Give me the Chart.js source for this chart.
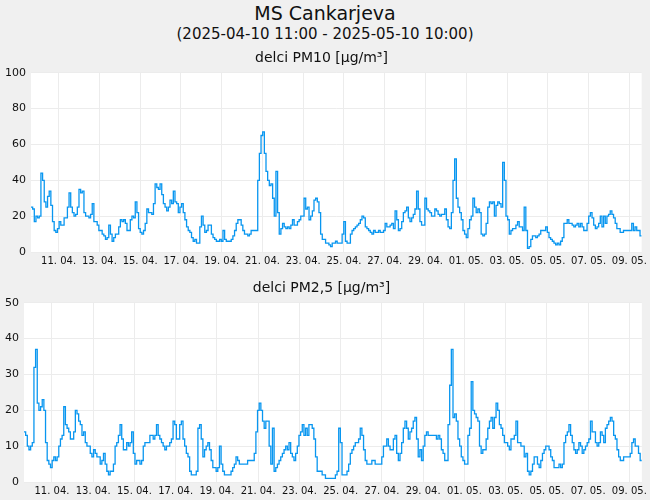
<!DOCTYPE html>
<html>
<head>
<meta charset="utf-8">
<script src="https://cdn.jsdelivr.net/npm/chart.js@4"></script>
<style>
  body { margin: 0; background: #f0f0f0; font-family: "DejaVu Sans", sans-serif; width: 650px; height: 500px; overflow: hidden; }
  .t1 { position: absolute; top: 2px; width: 650px; text-align: center; font-size: 19px; color: #111; }
  .t2 { position: absolute; top: 25px; width: 650px; text-align: center; font-size: 15px; color: #111; }
  .box { position: absolute; left: 0; width: 650px; }
</style>
</head>
<body>
<div class="t1">MS Cankarjeva</div>
<div class="t2">(2025-04-10 11:00 - 2025-05-10 10:00)</div>
<div class="box" style="top:48px;height:222px"><canvas id="c1"></canvas></div>
<div class="box" style="top:278px;height:222px"><canvas id="c2"></canvas></div>
<script>
// hourly span of the period, values read every ~2 h
var SPAN_HOURS = 719;
var FIRST_TICK_HOUR = 32.5;
var tickLabels = ['11. 04.', '13. 04.', '15. 04.', '17. 04.', '19. 04.', '21. 04.', '23. 04.', '25. 04.',
  '27. 04.', '29. 04.', '01. 05.', '03. 05.', '05. 05.', '07. 05.', '09. 05.'];

var pm10 = [
  25,24,17,20,19,20,44,40,28,25,31,34,26,17,12,11,13,17,15,15,19,19,25,33,25,22,20,21,25,35,
  33,34,22,20,20,19,21,27,17,17,15,12,12,10,9,7,8,15,10,6,8,10,10,14,18,17,18,16,12,12,
  18,20,19,28,22,13,11,10,12,16,24,22,22,21,27,38,36,35,38,32,27,25,23,25,29,27,34,28,27,22,
  25,27,22,18,14,12,11,8,6,7,5,5,14,20,15,11,12,15,15,10,8,7,6,6,
  7,6,12,7,6,6,6,7,9,12,16,18,18,15,12,10,10,9,10,12,12,12,12,40,55,65,67,55,45,40,
  37,38,30,20,45,22,10,13,16,14,13,14,13,15,18,15,15,17,18,20,20,30,24,25,18,20,23,29,30,28,
  22,10,7,7,5,5,4,3,5,5,6,5,5,5,10,17,6,5,5,10,12,13,14,15,16,18,20,19,14,13,
  12,11,10,12,11,11,12,11,11,12,16,14,14,15,16,13,23,18,12,13,17,22,23,25,19,17,19,21,24,34,
  24,17,15,15,30,24,23,22,20,20,
  24,23,21,20,21,21,24,18,14,13,22,40,52,30,25,22,18,12,10,8,13,18,20,30,25,22,24,22,10,9,
  10,16,25,28,27,28,20,26,28,27,25,50,40,20,18,10,12,13,13,15,17,14,14,12,25,12,2,3,7,9,
  9,8,9,10,12,12,12,14,11,8,7,6,5,4,5,4,6,8,16,16,18,16,16,15,14,15,16,14,16,14,
  12,12,16,20,22,19,15,13,14,16,20,14,20,16,20,21,23,21,19,16,13,13,11,11,12,12,12,12,12,16,
  12,14,12,12,9,9
];

var pm25 = [
  14,13,10,9,10,11,32,37,22,20,21,23,20,11,6,5,4,6,7,6,7,10,12,13,21,16,15,14,12,12,
  14,20,19,17,16,13,14,11,10,10,8,7,9,8,7,7,5,6,8,5,3,2,3,3,5,10,11,13,16,12,
  9,9,11,10,11,14,8,5,6,6,5,6,10,11,11,11,13,13,12,13,16,13,12,11,10,9,10,10,11,12,
  17,16,12,12,16,17,12,10,8,7,3,2,2,2,3,15,16,12,7,9,10,11,9,6,4,4,3,4,
  10,5,3,2,2,2,2,3,4,5,7,6,5,5,5,5,5,6,6,6,6,8,14,20,22,20,17,15,17,17,
  10,5,15,3,4,5,6,7,8,9,10,9,11,8,7,6,8,10,13,14,16,13,15,13,16,16,15,12,7,3,
  3,3,2,2,1,1,1,1,1,1,2,3,15,11,2,2,2,3,5,8,9,10,11,11,12,15,13,9,6,5,
  5,5,6,6,5,5,5,5,7,10,10,12,10,9,9,12,13,8,6,8,11,15,17,15,12,14,15,17,18,12,
  7,9,6,10,13,14,13,13,13,13,
  13,12,13,12,9,8,6,6,16,27,37,18,19,17,12,10,7,6,5,5,13,15,28,20,19,18,17,10,8,9,
  9,12,15,17,18,15,18,22,20,16,15,13,11,11,10,9,12,12,13,17,11,11,10,10,7,8,3,2,3,5,
  7,7,5,4,6,8,9,10,10,9,7,6,4,4,4,5,4,5,11,13,14,16,13,11,9,8,9,11,10,8,
  9,10,11,12,17,14,14,11,10,11,14,13,11,15,16,17,18,17,13,12,9,7,6,6,7,7,7,7,8,11,
  12,10,10,8,6,6
];

function toPoints(values) {
  var step = SPAN_HOURS / (values.length - 1);
  return values.map(function (v, i) { return { x: i * step, y: v }; });
}

var whiteArea = {
  id: 'whiteArea',
  beforeDraw: function (chart) {
    var a = chart.chartArea, ctx = chart.ctx;
    ctx.save();
    ctx.fillStyle = '#ffffff';
    ctx.fillRect(a.left, a.top, a.right - a.left, a.bottom - a.top);
    ctx.restore();
  }
};

function makeChart(id, values, title, yMax, yStep) {
  return new Chart(document.getElementById(id), {
    type: 'line',
    data: {
      datasets: [{
        data: toPoints(values),
        borderColor: '#0896f0',
        borderWidth: 1.3,
        pointRadius: 0,
        stepped: true,
        fill: false
      }]
    },
    options: {
      responsive: true,
      maintainAspectRatio: false,
      animation: false,
      layout: { padding: { left: 0, right: 7, top: 0, bottom: 0 } },
      plugins: {
        legend: { display: false },
        tooltip: { enabled: false },
        title: { display: true, text: title, color: '#111', font: { family: 'DejaVu Sans', size: 14, weight: 'normal' }, padding: { top: 2, bottom: 6 } }
      },
      scales: {
        x: {
          type: 'linear', min: 0, max: SPAN_HOURS,
          afterBuildTicks: function (axis) {
            axis.ticks = tickLabels.map(function (l, k) { return { value: FIRST_TICK_HOUR + 48 * k }; });
          },
          ticks: {
            autoSkip: false, maxRotation: 0, color: '#111', padding: 3,
            font: { family: 'DejaVu Sans', size: 10 },
            callback: function (v, i) { return tickLabels[i]; }
          },
          grid: { color: '#ececec', drawTicks: false },
          border: { display: false }
        },
        y: {
          min: 0, max: yMax,
          ticks: { stepSize: yStep, color: '#111', padding: 5, font: { family: 'DejaVu Sans', size: 11 } },
          grid: { color: '#ececec', drawTicks: false },
          border: { display: false }
        }
      }
    },
    plugins: [whiteArea]
  });
}

makeChart('c1', pm10, 'delci PM10 [µg/m³]', 100, 20);
makeChart('c2', pm25, 'delci PM2,5 [µg/m³]', 50, 10);
</script>
</body>
</html>
